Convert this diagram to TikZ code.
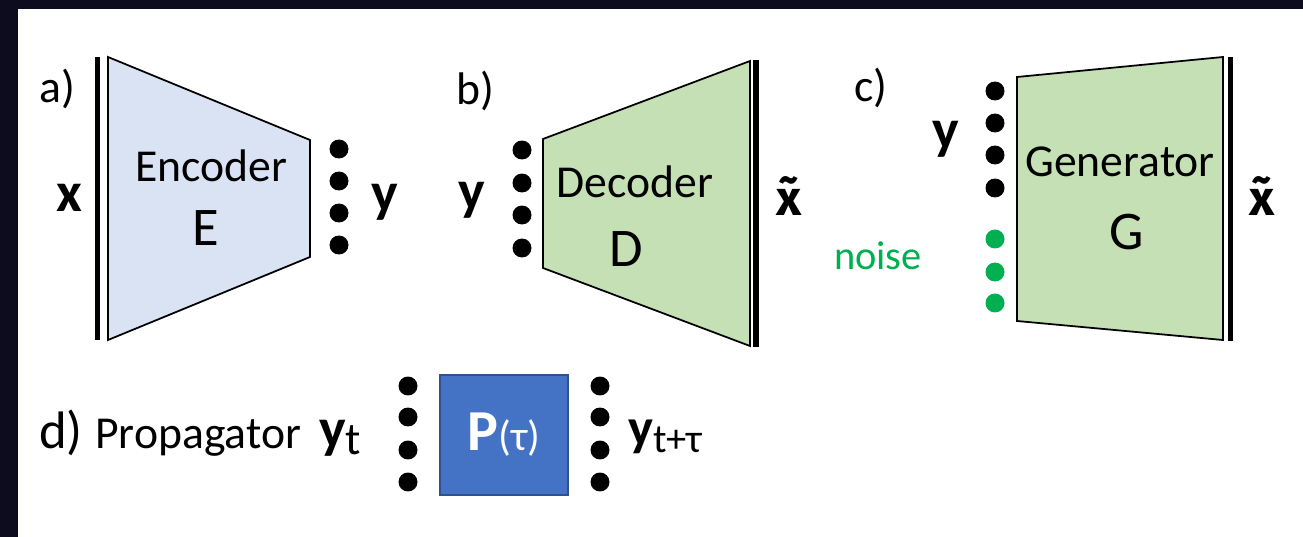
\documentclass[tikz,border=0pt]{standalone}
\usepackage{fontspec}
\setmainfont{Carlito}
\newfontfamily\accfont{Fira Sans}
\definecolor{encblue}{HTML}{DAE3F3}
\definecolor{decgreen}{HTML}{C5E0B4}
\definecolor{pblue}{HTML}{4472C4}
\definecolor{pborder}{HTML}{2F528F}
\definecolor{noisegreen}{HTML}{00B050}
\definecolor{darkbg}{HTML}{0C0C1E}
\tikzset{
  lbl/.style={anchor=base, inner sep=0pt, font=\fontsize{26}{30}\selectfont},
  bigletter/.style={anchor=base, inner sep=0pt, font=\fontsize{31}{36}\selectfont},
  var/.style={anchor=base, inner sep=0pt, font=\fontsize{32}{38}\selectfont\bfseries},
  tvar/.style={anchor=base, inner sep=0pt, font=\accfont\bfseries\fontsize{28}{34}\selectfont},
  dot/.style={circle, fill=black, inner sep=0pt, minimum size=0.38cm},
  gdot/.style={dot, fill=noisegreen},
  trap/.style={draw=black, line width=1pt, line join=miter},
  bar/.style={draw=black, line width=3.2pt},
}
\begin{document}
\begin{tikzpicture}[x=0.02cm, y=-0.02cm]
\useasboundingbox (0,0) rectangle (1303,537);
\fill[white] (0,0) rectangle (1340,560);
\fill[darkbg] (-20,-20) rectangle (18,560);
\fill[darkbg] (-20,-20) rectangle (1340,9);

% a) Encoder
\node[lbl] (la) at (57,103) {a)};
\draw[bar] (97.5,57) -- (97.5,340);
\draw[trap, fill=encblue] (108,57) -- (310,140) -- (310,257) -- (108,340) -- cycle;
\node[lbl] (enc) at (211,182) {Encoder};
\node[bigletter] (encE) at (206,246) {E};
\node[var] (xa) at (69,212) {x};
\node[dot] (a1) at (339,149) {};
\node[dot] (a2) at (339,181) {};
\node[dot] (a3) at (339,213) {};
\node[dot] (a4) at (339,245) {};
\node[var] (ya) at (385,212) {y};

% b) Decoder
\node[lbl] (lb) at (475,105) {b)};
\node[var] (yb) at (472,210) {y};
\node[dot] (b1) at (522,150) {};
\node[dot] (b2) at (522,183) {};
\node[dot] (b3) at (522,215) {};
\node[dot] (b4) at (522,248) {};
\draw[trap, fill=decgreen] (543,139) -- (750,61) -- (750,346) -- (543,268) -- cycle;
\draw[bar] (756,60) -- (756,347);
\node[lbl] (dec) at (635,197) {Decoder};
\node[bigletter] (decD) at (626,267) {D};
\node[tvar] (xb) at (789,215) {x̃};

% c) Generator
\node[lbl] (lc) at (871,102) {c)};
\node[var] (yc) at (946,149) {y};
\node[dot] (c1) at (995,91) {};
\node[dot] (c2) at (995,123) {};
\node[dot] (c3) at (995,155) {};
\node[dot] (c4) at (995,188) {};
\node[gdot] (c5) at (995,239) {};
\node[gdot] (c6) at (995,272) {};
\node[gdot] (c7) at (995,303) {};
\node[anchor=base, inner sep=0pt, font=\fontsize{23}{28}\selectfont, text=noisegreen] (noise) at (878,270) {noise};
\draw[trap, fill=decgreen] (1017,77) -- (1223,57) -- (1223,340) -- (1017,321) -- cycle;
\draw[bar] (1230.5,57) -- (1230.5,341);
\node[lbl] (gen) at (1120,177) {Generator};
\node[bigletter] (genG) at (1127,250) {G};
\node[tvar] (xc) at (1262,215) {x̃};

% d) Propagator
\node[anchor=base, inner sep=0pt, font=\fontsize{30}{34}\selectfont] (ld) at (61,448) {d)};
\node[lbl, anchor=base west] (prop) at (95,448) {Propagator};
\node[var, anchor=base west] (yt) at (319,447) {y\raisebox{-4pt}{\fontsize{26}{30}\selectfont\mdseries t}};
\node[dot] (d1) at (408,386) {};
\node[dot] (d2) at (408,417) {};
\node[dot] (d3) at (408,450) {};
\node[dot] (d4) at (408,482) {};
\node[draw=pborder, fill=pblue, line width=0.6pt, minimum width=2.56cm, minimum height=2.4cm, inner sep=0pt, text=white] (pbox) at (504,435)
  {\raisebox{-3pt}{{\fontsize{33}{38}\selectfont\bfseries P}{\fontsize{24}{28}\selectfont(τ)}}};
\node[dot] (e1) at (600,386) {};
\node[dot] (e2) at (600,417) {};
\node[dot] (e3) at (600,450) {};
\node[dot] (e4) at (600,482) {};
\node[anchor=base west, inner sep=0pt, font=\fontsize{30}{36}\selectfont\bfseries] (ytt) at (628,445) {y\raisebox{-4pt}{\fontsize{23}{28}\selectfont\mdseries t+τ}};
\end{tikzpicture}
\end{document}
